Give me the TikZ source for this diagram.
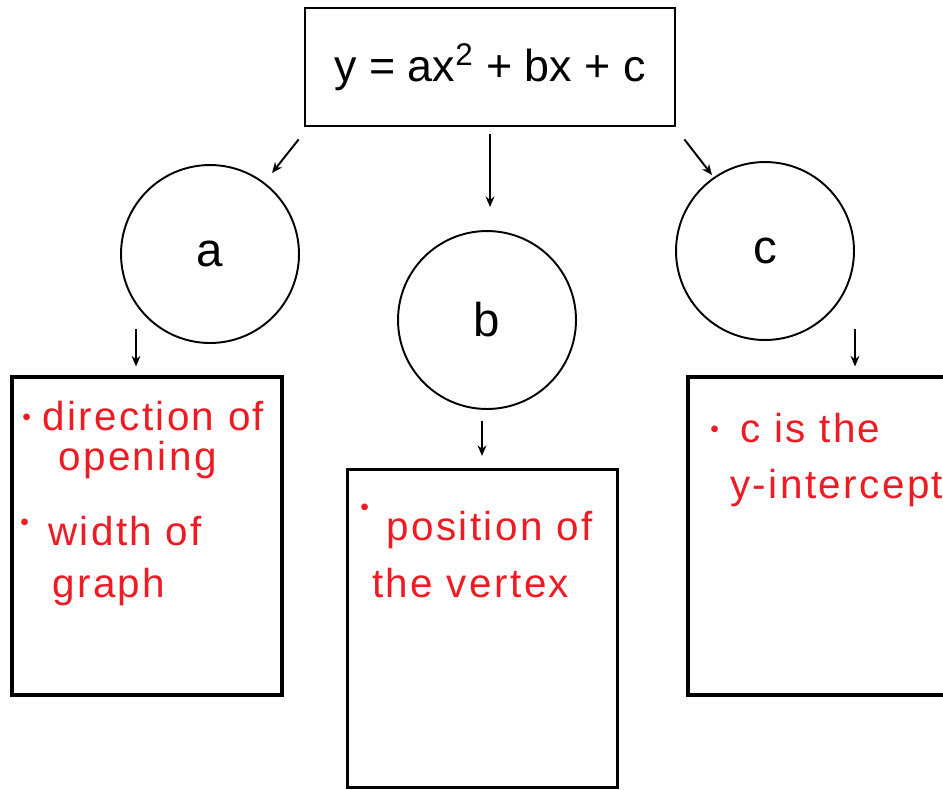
\documentclass[tikz,border=0pt]{standalone}
\usepackage{fontspec}
\setmainfont{Liberation Sans}
\newfontfamily\hand[LetterSpace=6]{Liberation Sans}
\usetikzlibrary{arrows.meta,calc}
\definecolor{ink}{RGB}{237,28,36}
\begin{document}
\begin{tikzpicture}[x=0.02cm,y=-0.02cm,
  topbox/.style={draw=black,line width=1.6pt,minimum width=7.4cm,minimum height=2.36cm,inner sep=0,
    font=\fontsize{25.5}{25.5}\selectfont},
  bubble/.style={draw=black,circle,line width=1.1pt,minimum size=3.56cm,inner sep=0,
    font=\fontsize{27}{27}\selectfont},
  notebox/.style={draw=black,line width=1.8pt,minimum width=5.4cm,minimum height=6.36cm,inner sep=0},
  arr/.style={line width=1.1pt,-{Stealth[length=6pt,width=5pt]}},
  note/.style={anchor=base west,inner sep=0,text=ink,font=\hand\fontsize{23}{23}\selectfont},
  dot/.style={anchor=base west,inner sep=0,text=ink,font=\fontsize{14}{14}\selectfont}]
\useasboundingbox (0,0) rectangle (943,789);
\clip (0,0) rectangle (943,789);
\fill[white] (0,0) rectangle (943,789);
% nodes
\node[topbox] (top) at (490,67) {y = ax\textsuperscript{2} + bx + c};
\node[bubble] (a) at (210,254) {a};
\node[bubble] (b) at (487,320) {b};
\node[bubble] (c) at (765,251) {c};
\node[notebox] (boxa) at (147,536) {};
\node[notebox] (boxb) at (482.5,628.5) {};
\node[notebox] (boxc) at (823,536) {};
% connectors
\draw[arr] ($(top.south west)+(-5,12)$) -- ($(a.center)+(62,-81)$);
\draw[arr] ($(top.south)+(0,7)$) coordinate (s0) -- ($(s0 |- b.north)+(0,-23)$);
\draw[arr] ($(top.south east)+(8,12)$) -- ($(c.center)+(-53,-76)$);
\draw[arr] ($(a.center)+(-74,75)$) coordinate (s1) -- ($(s1 |- boxa.north)+(0,-9)$);
\draw[arr] ($(b.south)+(-5,11)$) coordinate (s2) -- ($(s2 |- boxb.north)+(0,-12)$);
\draw[arr] ($(c.center)+(90,78)$) coordinate (s3) -- ($(s3 |- boxc.north)+(0,-9)$);
% handwritten notes
\node[dot] (da1) at (22,425) {•};
\node[note] (ta1) at (42,430) {direction of};
\node[note] (ta2) at (58,470) {opening};
\node[dot] (da2) at (20,530) {•};
\node[note] (ta3) at (48,545) {width of};
\node[note] (ta4) at (52,597) {graph};
\node[dot] (db1) at (360,515) {•};
\node[note] (tb1) at (386,540) {position of};
\node[note] (tb2) at (372,597) {the vertex};
\node[dot] (dc1) at (710,437) {•};
\node[note] (tc1) at (740,442) {c is the};
\node[note] (tc2) at (730,498) {y-intercept};
\end{tikzpicture}
\end{document}
